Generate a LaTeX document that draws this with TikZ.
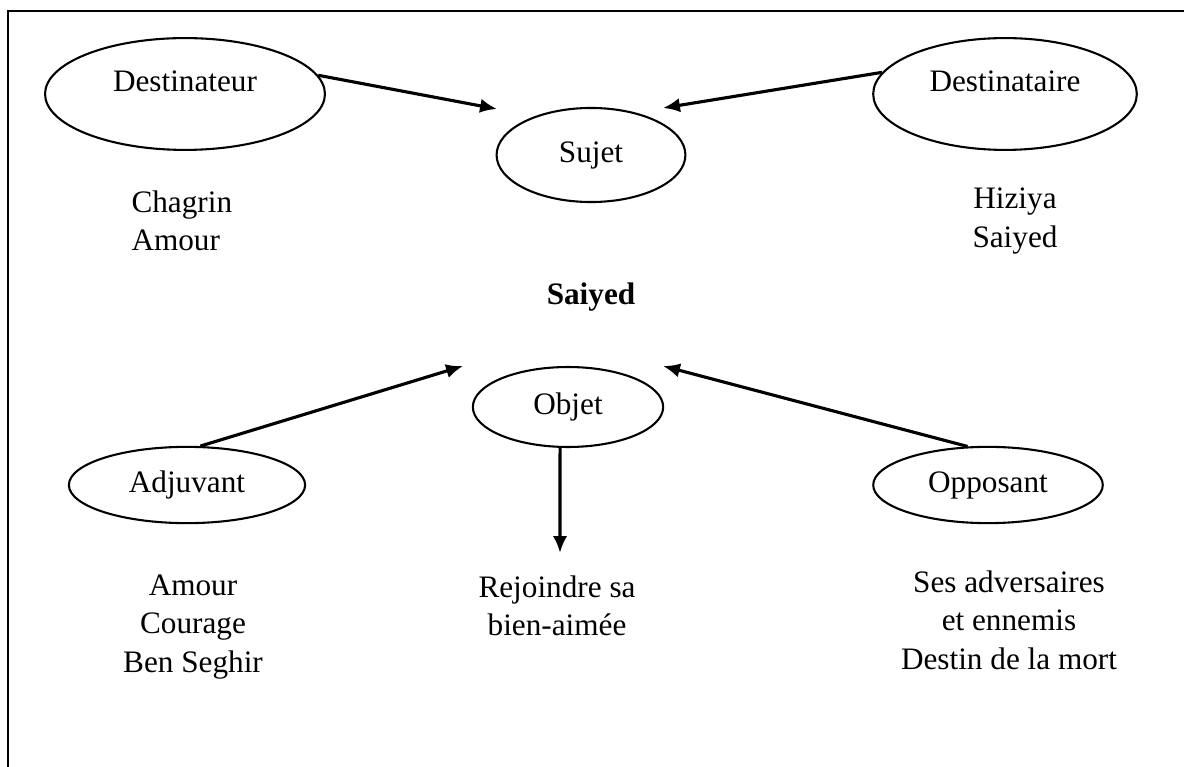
\documentclass[tikz,border=0pt]{standalone}
\usepackage{fontspec}
\setmainfont{Liberation Serif}
\usetikzlibrary{arrows.meta,shapes.geometric,positioning}

\begin{document}
\begin{tikzpicture}[x=0.0135cm,y=-0.0135cm,>={Latex[length=6.5pt,width=5.5pt]},
  every node/.style={font=\fontsize{12}{14.8}\selectfont},
  actant/.style={ellipse,draw,line width=0.8pt,inner sep=0pt},
  words/.style={align=center,inner sep=0pt}]
  \useasboundingbox (0,0) rectangle (1184,767);
  \draw[line width=1pt] (1184,11) -- (8,11) -- (8,767);

  \node[actant,minimum width=3.78cm,minimum height=1.51cm,text depth=9.5pt] (destinateur) at (185,94) {Destinateur};
  \node[actant,minimum width=2.55cm,minimum height=1.27cm] (sujet) at (591,155) {Sujet};
  \node[actant,minimum width=3.56cm,minimum height=1.51cm,text depth=9.5pt] (destinataire) at (1005,94) {Destinataire};
  \node[actant,minimum width=2.57cm,minimum height=1.08cm] (objet) at (568,407) {Objet};
  \node[actant,minimum width=3.19cm,minimum height=1.03cm] (adjuvant) at (187,485) {Adjuvant};
  \node[actant,minimum width=3.1cm,minimum height=1.03cm] (opposant) at (988,485) {Opposant};

  \node[words,align=left,anchor=west] (chagrin) at (131,221) {Chagrin\\Amour};
  \node[words] (hiziya) at (1015,221) {Hiziya\\Saiyed};
  \node[words,font=\fontsize{12}{14.8}\selectfont\bfseries] (saiyed) [below=1.07cm of sujet] {Saiyed};
  \node[words] (amour) at (193,627) {Amour\\Courage\\Ben Seghir};
  \node[words] (rejoindre) at (557,606) {Rejoindre sa\\bien-aimée};
  \node[words] (adversaires) at (1009,620) {Ses adversaires\\et ennemis\\Destin de la mort};

  \coordinate (sujetleft) at (497,109);
  \coordinate (sujetright) at (663,108);
  \coordinate (objetleft) at (463,366);
  \coordinate (objetright) at (663,366);
  \coordinate (objetdown) at (560,553);

  \path[->,line width=1.2pt] (destinateur.8) edge (sujetleft);
  \path[->,line width=1.2pt] (destinataire.170) edge (sujetright);
  \path[->,line width=1.2pt] (adjuvant.71) edge (objetleft);
  \path[->,line width=1.2pt] (opposant.118) edge (objetright);
  \path[->,line width=1.2pt] (objet.259) edge (objetdown);
\end{tikzpicture}
\end{document}
